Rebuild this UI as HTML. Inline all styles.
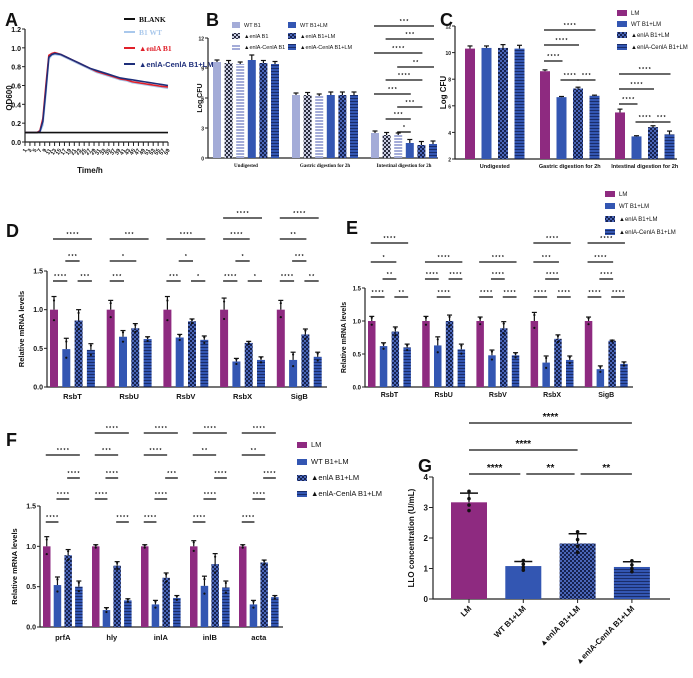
<!DOCTYPE html>
<html><head><meta charset="utf-8"><style>
html,body{margin:0;padding:0;background:#fff}
svg{display:block;font-family:"Liberation Sans",sans-serif}
</style></head><body>
<svg id="fig" width="693" height="678" viewBox="0 0 693 678" xmlns="http://www.w3.org/2000/svg">
<defs>
<pattern id="chkDark" width="4" height="4" patternUnits="userSpaceOnUse"><rect width="4" height="4" fill="#16224f"/><rect width="2" height="2" fill="#4a66b8"/><rect x="2" y="2" width="2" height="2" fill="#4a66b8"/></pattern>
<pattern id="chkGray" width="4" height="4" patternUnits="userSpaceOnUse"><rect width="4" height="4" fill="#2a2d3e"/><rect width="2" height="2" fill="#c8cbe0"/><rect x="2" y="2" width="2" height="2" fill="#c8cbe0"/></pattern>
<pattern id="strBlue" width="4" height="3" patternUnits="userSpaceOnUse"><rect width="4" height="3" fill="#3356b2"/><rect y="2" width="4" height="1" fill="#1a2d6a"/></pattern>
<pattern id="strLav" width="4" height="3" patternUnits="userSpaceOnUse"><rect width="4" height="3" fill="#a4acd8"/><rect y="2" width="4" height="1" fill="#fff"/></pattern>
</defs>
</svg>
<script>
// ---------- data ----------
const A_time=[0,2,4,5,6,7,8,9,10,12,14,16,18,20,22,24,26,28,30,32,34,36,38,40,42,44,46,48];
const A_blank=[0.1,0.1,0.1,0.1,0.1,0.1,0.1,0.1,0.1,0.1,0.1,0.1,0.1,0.1,0.1,0.1,0.1,0.1,0.1,0.1,0.1,0.1,0.1,0.1,0.1,0.1,0.1,0.1];
const A_wt=[0.1,0.1,0.1,0.1,0.18,0.5,0.88,0.92,0.93,0.92,0.89,0.86,0.83,0.8,0.77,0.74,0.72,0.7,0.68,0.66,0.65,0.63,0.62,0.61,0.6,0.59,0.58,0.57];
const A_enla=[0.1,0.1,0.1,0.12,0.25,0.6,0.92,0.94,0.95,0.93,0.9,0.87,0.84,0.81,0.78,0.75,0.73,0.71,0.69,0.67,0.66,0.64,0.63,0.62,0.61,0.6,0.59,0.585];
const A_cenla=[0.1,0.1,0.1,0.11,0.22,0.55,0.9,0.93,0.94,0.93,0.9,0.87,0.84,0.81,0.78,0.76,0.74,0.72,0.7,0.68,0.67,0.66,0.65,0.64,0.63,0.62,0.61,0.6];
const A_yticks=[0,0.2,0.4,0.6,0.8,1.0,1.2];

const B_groups=["Undigested","Gastric digestion for 2h","Intestinal digestion for 2h"];
const B_wt=[9.6,6.3,2.5], B_enla=[9.5,6.3,2.3], B_cenla=[9.4,6.2,2.3];
const B_wtlm=[9.8,6.3,1.5], B_enlalm=[9.5,6.3,1.3], B_cenlalm=[9.4,6.3,1.4];
const B_err=[0.25,0.3,0.25,0.5,0.3,0.25];
const B_ticks=[0,3,6,9,12];

const C_groups=["Undigested","Gastric digestion for 2h","Intestinal digestion for 2h"];
const C_lm=[10.3,8.6,5.5], C_wt=[10.35,6.65,3.7], C_enla=[10.35,7.3,4.4], C_cenla=[10.3,6.75,3.85];
const C_err=[0.2,0.15,0.25,0.2];
const C_ticks=[2,4,6,8,10,12];

const D_groups=["RsbT","RsbU","RsbV","RsbX","SigB"];
const D_lm=[1,1,1,1,1], D_wt=[0.49,0.65,0.64,0.33,0.35], D_enla=[0.86,0.76,0.85,0.57,0.68], D_cenla=[0.48,0.62,0.61,0.35,0.39];
const D_errLm=[0.17,0.12,0.17,0.15,0.12], D_errWt=[0.14,0.08,0.04,0.04,0.1], D_errEnla=[0.14,0.06,0.03,0.02,0.07], D_errCenla=[0.08,0.03,0.05,0.04,0.06];

const E_groups=["RsbT","RsbU","RsbV","RsbX","SigB"];
const E_lm=[1,1,1,1,1], E_wt=[0.62,0.63,0.48,0.37,0.27], E_enla=[0.84,1.0,0.89,0.73,0.7], E_cenla=[0.6,0.57,0.48,0.41,0.35];
const E_errLm=[0.07,0.07,0.06,0.13,0.06], E_errWt=[0.05,0.13,0.08,0.1,0.05], E_errEnla=[0.07,0.09,0.1,0.06,0.01], E_errCenla=[0.05,0.08,0.04,0.06,0.03];

const F_groups=["prfA","hly","inlA","inlB","acta"];
const F_lm=[1,1,1,1,1], F_wt=[0.52,0.21,0.28,0.51,0.28], F_enla=[0.89,0.76,0.61,0.78,0.8], F_cenla=[0.5,0.33,0.36,0.49,0.37];
const F_errLm=[0.12,0.02,0.02,0.07,0.02], F_errWt=[0.1,0.03,0.05,0.12,0.05], F_errEnla=[0.07,0.05,0.06,0.13,0.03], F_errCenla=[0.07,0.02,0.03,0.08,0.02];
const mrnaTicks=[0,0.5,1.0,1.5];

const G_groups=["LM","WT B1+LM","▲enlA B1+LM","▲enlA-CenlA B1+LM"];
const G_vals=[3.17,1.08,1.82,1.05];
const G_errs=[0.3,0.15,0.32,0.17];
const G_ticks=[0,1,2,3,4];

// sig annotations: [group, barA, barB, row, label]
const B_sig=[[2,0,5,8,"***"],[2,1,5,7,"***"],[2,0,4,6,"****"],[2,2,5,5,"**"],[2,1,4,4,"****"],[2,0,3,3,"***"],[2,2,4,2,"***"],[2,1,3,1,"***"],[2,2,3,0,"*"]];
const C_sig=[[1,0,3,0,"****"],[1,0,2,1,"****"],[1,0,1,2,"****"],[1,1,2,3,"****"],[1,2,3,3,"***"],
 [2,0,3,4,"****"],[2,0,2,5,"****"],[2,0,1,6,"****"],[2,1,2,7,"****"],[2,2,3,7,"***"]];
const D_sig=[[0,0,1,0,"****"],[0,2,3,0,"***"],[0,1,2,1,"***"],[0,0,3,2,"****"],
 [1,0,1,0,"***"],[1,0,2,1,"*"],[1,0,3,2,"***"],
 [2,0,1,0,"***"],[2,2,3,0,"*"],[2,1,2,1,"*"],[2,0,3,2,"****"],
 [3,0,1,0,"****"],[3,2,3,0,"*"],[3,1,2,1,"*"],[3,0,2,2,"****"],[3,0,3,3,"****"],
 [4,0,1,0,"****"],[4,2,3,0,"**"],[4,1,2,1,"***"],[4,0,2,2,"**"],[4,0,3,3,"****"]];
const E_sig=[[0,0,1,0,"****"],[0,2,3,0,"**"],[0,1,2,1,"**"],[0,0,2,2,"*"],[0,0,3,3,"****"],
 [1,1,2,0,"****"],[1,0,1,1,"****"],[1,2,3,1,"****"],[1,0,3,2,"****"],
 [2,0,1,0,"****"],[2,2,3,0,"****"],[2,1,2,1,"****"],[2,0,3,2,"****"],
 [3,0,1,0,"****"],[3,2,3,0,"****"],[3,1,2,1,"****"],[3,0,2,2,"***"],[3,0,3,3,"****"],
 [4,0,1,0,"****"],[4,2,3,0,"****"],[4,1,2,1,"****"],[4,0,2,2,"****"],[4,0,3,3,"****"]];
const F_sig=[[0,0,1,0,"****"],[0,1,2,1,"****"],[0,2,3,2,"****"],[0,0,3,3,"****"],
 [1,2,3,0,"****"],[1,0,1,1,"****"],[1,1,2,2,"****"],[1,0,2,3,"***"],[1,0,3,4,"****"],
 [2,0,1,0,"****"],[2,1,2,1,"****"],[2,2,3,2,"***"],[2,0,2,3,"****"],[2,0,3,4,"****"],
 [3,0,1,0,"****"],[3,1,2,1,"****"],[3,2,3,2,"****"],[3,0,2,3,"**"],[3,0,3,4,"****"],
 [4,0,1,0,"****"],[4,1,2,1,"****"],[4,2,3,2,"****"],[4,0,2,3,"**"],[4,0,3,4,"****"]];
const G_sig=[[0,3,2,"****"],[0,2,1,"****"],[0,1,0,"****"],[1,2,0,"**"],[2,3,0,"**"]];

// ---------- helpers ----------
const svg=document.getElementById('fig');
const NS="http://www.w3.org/2000/svg";
function mk(tag,attrs,parent){const e=document.createElementNS(NS,tag);for(const k in attrs)e.setAttribute(k,attrs[k]);(parent||svg).appendChild(e);return e;}
function txt(x,y,s,size,opt,parent){opt=opt||{};const e=mk('text',{x:x,y:y,'font-size':size,'font-weight':opt.w||'bold','text-anchor':opt.a||'start',fill:opt.c||'#111'},parent);if(opt.rot!==undefined)e.setAttribute('transform','rotate('+opt.rot+' '+x+' '+y+')');if(opt.f)e.setAttribute('font-family',opt.f);e.textContent=s;return e;}
function grp(name){const g=mk('g',{});return g;}
function lin(d0,d1,r0,r1){return v=>r0+(v-d0)/(d1-d0)*(r1-r0);}

// ---------- Panel A ----------
(function(){
 const g=grp('panel-a');
 const t=txt(5,26,"A",18,{},g);
 const x=lin(0,48,25,168), y=lin(0,1.2,142,29);
 const ax=mk('path',{d:`M25,29 V142 H168`,stroke:'#222','stroke-width':1.2,fill:'none'},g);
 
 A_yticks.forEach(v=>{mk('line',{x1:22,x2:25,y1:y(v),y2:y(v),stroke:'#222'},g);
  const l=txt(21,y(v)+3,v.toFixed(1),7,{a:'end'},g);});
 for(let i=0;i<30;i++){const xx=25+i*(143/29);mk('line',{x1:xx,x2:xx,y1:142,y2:146,stroke:'#222'},g);
  const l=txt(xx+2,150,String(i*2+1),5.5,{a:'end',rot:-60},g);}
 const xt=txt(90,173,"Time/h",8,{a:'middle'},g);
 const yt=txt(12,98,"OD600",8,{a:'middle',rot:-90},g);
 const series=[[A_wt,'#a9c8ec','series-b1-wt'],[A_enla,'#e0202a','series-enla-b1'],[A_cenla,'#1e2e7a','series-enla-cenla-b1-lm'],[A_blank,'#111','series-blank']];
 series.forEach(s=>{const p=mk('polyline',{points:A_time.map((tt,i)=>x(tt)+','+y(s[0][i])).join(' '),stroke:s[1],'stroke-width':1.6,fill:'none'},g);
  });
 const leg=[["BLANK",'#111',22,'serif'],["B1 WT",'#a9c8ec',35,'serif'],["▲enlA B1",'#e0202a',51,'serif'],["▲enlA-CenlA B1+LM",'#1e2e7a',67,'sans']];
 leg.forEach(l=>{const e=grp('a-legend-entry');mk('line',{x1:124,x2:135,y1:l[2]-3,y2:l[2]-3,stroke:l[1],'stroke-width':2},e);
  txt(139,l[2],l[0],7.5,{c:l[1]==='#a9c8ec'?'#a9c8ec':(l[1]==='#e0202a'?'#e0202a':(l[3]==='sans'?'#1e2e7a':'#111')),f:l[3]==='serif'?'"Liberation Serif",serif':'"Liberation Sans",sans-serif'},e);});
})();

// ---------- generic bar panel ----------
function barPanel(c){
 const g=grp(c.name);
 const y=lin(c.vmin,c.vmax,c.yBot,c.yTop);
 const ax=mk('path',{d:`M${c.ax},${c.yTop} V${c.yBot} H${c.x1}`,stroke:'#222','stroke-width':1.2,fill:'none'},g);
 
 c.ticks.forEach(v=>{mk('line',{x1:c.ax-3,x2:c.ax,y1:y(v),y2:y(v),stroke:'#222'},g);
  const l=txt(c.ax-4,y(v)+2.5,c.fmt?c.fmt(v):String(v),c.tfs||7,{a:'end'},g);});
 const yt=txt(c.ytx,(c.yTop+c.yBot)/2,c.ytitle,c.yfs||8,{a:'middle',rot:-90},g);
 const bx=(gi,si)=>c.gx0+gi*c.gstep+si*c.bstep;
 c.groups.forEach((lab,gi)=>{
  const gl=txt(bx(gi,0)+((c.series.length-1)*c.bstep+c.bw)/2,c.labY,lab,c.lfs||7.5,{a:'middle',f:c.lf},g);
  
  c.series.forEach((s,si)=>{
   const v=s.vals[gi],e=s.errs[gi],x0=bx(gi,si),cx=x0+c.bw/2;
   const r=mk('rect',{x:x0,y:y(v),width:c.bw,height:y(c.vmin)-y(v),fill:s.fill},g);
   
   mk('line',{x1:cx,x2:cx,y1:y(v),y2:y(v+e),stroke:'#111','stroke-width':1.2},g);
   mk('line',{x1:cx-2.5,x2:cx+2.5,y1:y(v+e),y2:y(v+e),stroke:'#111','stroke-width':1.2},g);
   if(c.dots){[v+e*0.7,v-e*0.8].forEach(d=>{const p=mk('circle',{cx:cx,cy:y(d),r:1.1,fill:'#111'},g);});}
  });
 });
 c.sig.forEach(sg=>{
  const xa=bx(sg[0],sg[1])+c.bw/2,xb=bx(sg[0],sg[2])+c.bw/2,yy=c.rows[sg[3]];
  const ln=mk('line',{x1:xa-1,x2:xb+1,y1:yy,y2:yy,stroke:'#111','stroke-width':1.3},g);
  
  const st=txt((xa+xb)/2,yy-3,sg[4].split('').join(' '),5,{a:'middle'},g);
  
 });
 if(c.legend){c.legend.forEach((l,i)=>{const e=grp(c.name+'-legend-entry');
  mk('rect',{x:l.x,y:l.y-5,width:c.legSw||10,height:6,fill:l.fill},e);
  txt(l.x+(c.legSw||10)+4,l.y,l.t,c.legFs||7,{w:'normal'},e);});}
 return g;
}
const LM='#8e2a80',WT='#3356b2';

// ---------- Panel B ----------
txt(206,26,"B",18,{});
barPanel({name:'panel-b',ax:208,x1:438,yTop:38,yBot:158,vmin:0,vmax:12,ticks:B_ticks,tfs:5,ytx:202,ytitle:'Log CFU',yfs:7,
 groups:B_groups,labY:167,lfs:5,lf:'"Liberation Serif",serif',gx0:213,gstep:79,bstep:11.6,bw:8,
 series:[{vals:B_wt,errs:B_err.map(()=>0.2),fill:'#a4acd8'},{vals:B_enla,errs:B_err.map(()=>0.25),fill:'url(#chkGray)'},{vals:B_cenla,errs:B_err.map(()=>0.2),fill:'url(#strLav)'},
  {vals:B_wtlm,errs:[0.5,0.3,0.35],fill:WT},{vals:B_enlalm,errs:[0.25,0.3,0.35],fill:'url(#chkDark)'},{vals:B_cenlalm,errs:[0.25,0.3,0.3],fill:'url(#strBlue)'}],
 sig:B_sig,rows:[132,119,107,94,80,67,53,39,26],
 legend:[{x:232,y:27,t:'WT B1',fill:'#a4acd8'},{x:232,y:38,t:'▲enlA B1',fill:'url(#chkGray)'},{x:232,y:49,t:'▲enlA-CenlA B1',fill:'url(#strLav)'},
  {x:288,y:27,t:'WT B1+LM',fill:WT},{x:288,y:38,t:'▲enlA B1+LM',fill:'url(#chkDark)'},{x:288,y:49,t:'▲enlA-CenlA B1+LM',fill:'url(#strBlue)'}],legFs:5.5,legSw:8});

// ---------- Panel C ----------
txt(440,26,"C",18,{});
barPanel({name:'panel-c',ax:455,x1:677,yTop:26,yBot:159,vmin:2,vmax:12,ticks:C_ticks,tfs:5,ytx:446,ytitle:'Log CFU',yfs:8,
 groups:C_groups,labY:168,lfs:5.5,gx0:465,gstep:75,bstep:16.5,bw:10,
 series:[{vals:C_lm,errs:[0.2,0.1,0.25],fill:LM},{vals:C_wt,errs:[0.15,0.05,0.05],fill:WT},{vals:C_enla,errs:[0.25,0.1,0.1],fill:'url(#chkDark)'},{vals:C_cenla,errs:[0.25,0.05,0.25],fill:'url(#strBlue)'}],
 sig:C_sig,rows:[30,45,61,80,74,89,104,122],
 legend:[{x:617,y:15,t:'LM',fill:LM},{x:617,y:26,t:'WT B1+LM',fill:WT},{x:617,y:37,t:'▲enlA B1+LM',fill:'url(#chkDark)'},{x:617,y:49,t:'▲enlA-CenlA B1+LM',fill:'url(#strBlue)'}],legFs:6});

// ---------- Panel D ----------
txt(6,237,"D",18,{});
barPanel({name:'panel-d',ax:47,x1:327,yTop:271,yBot:387,vmin:0,vmax:1.5,ticks:mrnaTicks,fmt:v=>v.toFixed(1),ytx:24,ytitle:'Relative mRNA levels',yfs:7.5,
 groups:D_groups,labY:399,gx0:50,gstep:56.7,bstep:12.3,bw:8,dots:true,
 series:[{vals:D_lm,errs:D_errLm,fill:LM},{vals:D_wt,errs:D_errWt,fill:WT},{vals:D_enla,errs:D_errEnla,fill:'url(#chkDark)'},{vals:D_cenla,errs:D_errCenla,fill:'url(#strBlue)'}],
 sig:D_sig,rows:[281,261,239,218]});

// ---------- Panel E ----------
txt(346,234,"E",18,{});
barPanel({name:'panel-e',ax:365,x1:633,yTop:288,yBot:387,vmin:0,vmax:1.5,ticks:mrnaTicks,fmt:v=>v.toFixed(1),tfs:6,ytx:346,ytitle:'Relative mRNA levels',yfs:7,
 groups:E_groups,labY:397,lfs:7,gx0:368,gstep:54.2,bstep:11.8,bw:7.5,dots:true,
 series:[{vals:E_lm,errs:E_errLm,fill:LM},{vals:E_wt,errs:E_errWt,fill:WT},{vals:E_enla,errs:E_errEnla,fill:'url(#chkDark)'},{vals:E_cenla,errs:E_errCenla,fill:'url(#strBlue)'}],
 sig:E_sig,rows:[297,279,262,243],
 legend:[{x:605,y:196,t:'LM',fill:LM},{x:605,y:208,t:'WT B1+LM',fill:WT},{x:605,y:221,t:'▲enlA B1+LM',fill:'url(#chkDark)'},{x:605,y:234,t:'▲enlA-CenlA B1+LM',fill:'url(#strBlue)'}],legFs:6});

// ---------- Panel F ----------
txt(6,446,"F",18,{});
barPanel({name:'panel-f',ax:40,x1:283,yTop:506,yBot:627,vmin:0,vmax:1.5,ticks:mrnaTicks,fmt:v=>v.toFixed(1),ytx:17,ytitle:'Relative mRNA levels',yfs:7.5,
 groups:F_groups,labY:640,gx0:43,gstep:49,bstep:10.7,bw:7.5,dots:true,
 series:[{vals:F_lm,errs:F_errLm,fill:LM},{vals:F_wt,errs:F_errWt,fill:WT},{vals:F_enla,errs:F_errEnla,fill:'url(#chkDark)'},{vals:F_cenla,errs:F_errCenla,fill:'url(#strBlue)'}],
 sig:F_sig,rows:[522,499,478,455,433],
 legend:[{x:297,y:447,t:'LM',fill:LM},{x:297,y:464,t:'WT B1+LM',fill:WT},{x:297,y:480,t:'▲enlA B1+LM',fill:'url(#chkDark)'},{x:297,y:496,t:'▲enlA-CenlA B1+LM',fill:'url(#strBlue)'}],legFs:7.5});

// ---------- Panel G ----------
(function(){
 const g=grp('panel-g');
 const lab=txt(418,472,"G",18,{},g);
 const y=lin(0,4,599,477);
 const cx=i=>469+i*54.3;
 const ax=mk('path',{d:'M433,477 V599 H670',stroke:'#222','stroke-width':1.2,fill:'none'},g);
 
 G_ticks.forEach(v=>{mk('line',{x1:429,x2:433,y1:y(v),y2:y(v),stroke:'#222'},g);
  const l=txt(428,y(v)+3,String(v),8,{a:'end'},g);});
 const yt=txt(414,538,"LLO concentration (U/mL)",8,{a:'middle',rot:-90},g);
 const fills=[LM,WT,'url(#chkDark)','url(#strBlue)'];
 G_vals.forEach((v,i)=>{
  const r=mk('rect',{x:cx(i)-18,y:y(v),width:36,height:599-y(v),fill:fills[i]},g);
  
  const e=G_errs[i];
  mk('line',{x1:cx(i),x2:cx(i),y1:y(v),y2:y(v+e),stroke:'#111','stroke-width':1.3},g);
  mk('line',{x1:cx(i)-9,x2:cx(i)+9,y1:y(v+e),y2:y(v+e),stroke:'#111','stroke-width':1.5},g);
  [v+e*1.2,v+e*0.4,v-e*0.3,v-e*0.9].forEach(d=>{const p=mk('circle',{cx:cx(i),cy:y(d),r:1.8,fill:'#111'},g);});
  mk('line',{x1:cx(i),x2:cx(i),y1:599,y2:603,stroke:'#222'},g);
  const xl=txt(cx(i)+3,609,G_groups[i],8,{a:'end',rot:-45},g);
 });
 const rows=[474,450,423];
 G_sig.forEach(s=>{const xa=cx(s[0])+(s[2]===0&&s[0]>0?3:0),xb=cx(s[1])-(s[2]===0&&s[1]<3?3:0);
  const ln=mk('line',{x1:xa,x2:xb,y1:rows[s[2]],y2:rows[s[2]],stroke:'#111','stroke-width':1.3},g);
  
  const st=txt((xa+xb)/2,rows[s[2]]-3,s[3],10,{a:'middle'},g);});
})();
</script>
</body></html>
